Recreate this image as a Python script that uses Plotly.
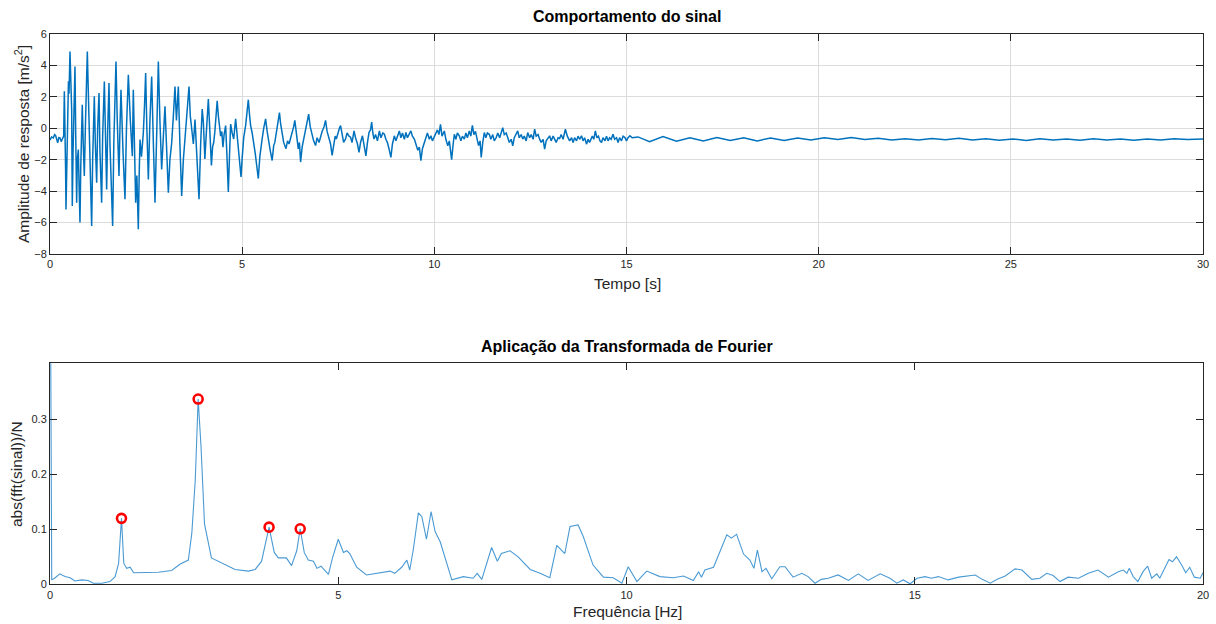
import plotly.graph_objects as go

# ---------------- data: time signal (t [s], amplitude [m/s^2]) ----------------
sinal_inicio = [
    (0.0, -0.75), (0.04, -0.55), (0.087, -0.61), (0.12, -0.4), (0.147, -0.47), (0.18, -0.75),
    (0.2, -0.93), (0.23, -0.6), (0.26, -0.61), (0.29, -0.85), (0.32, -0.72), (0.356, -0.5),
    (0.373, 2.35), (0.39, 0.5), (0.405, -2.5), (0.416, -5.16), (0.43, -3.0), (0.445, -1.0),
    (0.46, -0.08), (0.48, 3.0), (0.495, 2.2), (0.52, 4.88), (0.54, 3.2), (0.564, 1.18),
    (0.572, -2.0), (0.58, -4.95), (0.6, -1.5), (0.62, 1.0), (0.65, 3.93), (0.67, -0.5),
    (0.694, -4.74), (0.71, -2.0), (0.737, -1.35), (0.755, -3.5), (0.78, -6.0), (0.8, -2.5),
    (0.82, 0.3), (0.84, 1.5), (0.865, -1.0), (0.893, -3.04), (0.92, 0.0), (0.945, 2.5),
    (0.971, 4.88), (0.99, 3.0), (1.02, -0.08), (1.05, -3.0), (1.084, -6.22), (1.11, -2.0),
    (1.13, 0.5), (1.153, 2.03), (1.18, -1.0), (1.214, -3.47), (1.24, 0.0), (1.275, 2.24),
    (1.3, -1.5), (1.344, -4.74), (1.37, -0.5), (1.414, 2.98), (1.44, 0.0), (1.474, -3.89),
    (1.5, -0.2), (1.535, 2.88), (1.56, -1.0), (1.6, -3.5), (1.63, -6.22), (1.66, -1.0),
    (1.69, 2.0), (1.717, 4.25), (1.75, 0.5), (1.795, -3.04), (1.82, 0.0), (1.847, 2.45),
    (1.9, -1.5), (1.951, -4.52), (1.99, 0.0), (2.038, 3.4), (2.09, 0.5), (2.142, -1.78),
    (2.168, 2.45), (2.2, -1.0), (2.229, -4.74), (2.26, -3.0), (2.298, -6.43), (2.32, -3.0),
    (2.342, -0.72), (2.38, -1.8), (2.428, -0.3), (2.46, 1.5), (2.489, 3.51), (2.52, 0.0),
    (2.559, -3.26), (2.6, 0.5), (2.645, 3.3), (2.69, -1.0), (2.732, -4.74), (2.78, 0.0),
    (2.819, 4.25), (2.86, 0.5), (2.905, -2.62), (2.95, -0.5), (2.992, 1.4), (3.03, -1.0),
    (3.079, -4.1), (3.12, -2.0), (3.166, -0.93), (3.21, 0.8), (3.252, 2.66), (3.29, 0.5),
    (3.339, 2.66), (3.38, -1.0), (3.426, -4.31), (3.47, -2.0), (3.513, -0.51), (3.56, 0.8),
    (3.617, 2.66), (3.65, 0.8), (3.686, -0.08), (3.73, -1.0), (3.773, 0.55), (3.82, -1.5),
    (3.877, -4.52), (3.92, -1.0),
]
sinal_meio = [
    (3.96, 1.23), (3.99, 0.4), (4.03, -1.95), (4.06, -0.6), (4.09, 0.9), (4.12, 1.86),
    (4.15, 0.3), (4.2, -2.37), (4.23, -1.2), (4.26, -0.89), (4.29, -0.2), (4.32, 0.6),
    (4.35, 1.75), (4.38, 0.8), (4.41, 0.17), (4.44, -0.5), (4.47, -0.2), (4.5, -1.2),
    (4.53, -0.4), (4.57, 0.17), (4.6, -1.5), (4.64, -4.06), (4.67, -1.8), (4.7, 0.27),
    (4.74, -0.3), (4.78, -0.68), (4.83, 0.6), (4.86, -0.2), (4.9, -1.31), (4.93, -2.0),
    (4.97, -3.1), (5.0, -1.9), (5.04, -0.6), (5.09, 0.17), (5.12, 1.0), (5.16, 1.82),
    (5.19, 0.9), (5.22, 0.17), (5.26, -0.3), (5.3, -0.9), (5.34, -1.6), (5.38, -2.4),
    (5.42, -3.2), (5.46, -1.8), (5.49, -1.0), (5.52, -0.68), (5.56, 0.0), (5.61, 0.6),
    (5.65, -0.2), (5.69, -0.89), (5.73, -1.4), (5.78, -2.05), (5.82, -1.1), (5.85, -0.9),
    (5.88, -0.47), (5.92, 0.2), (5.97, 1.0), (6.0, 0.3), (6.04, -0.47), (6.08, -0.9),
    (6.14, -1.3), (6.18, -0.8), (6.22, -1.0), (6.26, -0.68), (6.3, -0.2), (6.34, 0.1),
    (6.37, 0.5), (6.41, -0.4), (6.46, -1.31), (6.49, -0.9), (6.52, -2.15), (6.56, -1.2),
    (6.6, -0.68), (6.64, -0.2), (6.68, 0.2), (6.73, 0.9), (6.77, 0.1), (6.82, -0.47),
    (6.86, -0.8), (6.91, -1.1), (6.95, -0.6), (7.0, -0.9), (7.04, -0.47), (7.08, -0.2),
    (7.13, 0.1), (7.17, 0.5), (7.21, -0.2), (7.26, -0.68), (7.3, -1.0), (7.34, -1.73),
    (7.38, -1.0), (7.42, -0.5), (7.45, -0.68), (7.5, -0.2), (7.53, 0.0), (7.56, 0.17),
    (7.6, -0.4), (7.64, -0.9), (7.69, -0.68), (7.73, -0.3), (7.78, -0.5), (7.82, -0.57),
    (7.86, -0.9),
]
sinal_tarde = [
    (7.91, -0.17), (7.95, -0.6), (8.0, -1.0), (8.04, -1.54), (8.08, -0.9), (8.13, -0.48),
    (8.17, -1.0), (8.22, -1.75), (8.26, -0.9), (8.3, -0.27), (8.34, -0.1), (8.37, 0.4),
    (8.4, -0.3), (8.43, -0.69), (8.47, -0.4), (8.52, -0.8), (8.57, -0.17), (8.61, -0.6),
    (8.66, -0.3), (8.7, -0.38), (8.74, -0.7), (8.78, -0.91), (8.82, -1.3), (8.87, -1.85),
    (8.91, -1.0), (8.96, -0.48), (9.0, -0.8), (9.04, -0.5), (9.09, -0.17), (9.13, -0.6),
    (9.17, -0.3), (9.22, -0.7), (9.26, -0.27), (9.3, -0.6), (9.35, -0.4), (9.39, -0.17),
    (9.43, -0.5), (9.48, -0.69), (9.52, -1.0), (9.57, -1.4), (9.61, -1.2), (9.65, -2.06),
    (9.69, -1.3), (9.74, -0.9), (9.78, -0.69), (9.82, -0.3), (9.87, -0.7), (9.91, -0.48),
    (9.95, -0.8), (10.0, -0.5), (10.04, -0.38), (10.08, -0.1), (10.12, -0.4), (10.16, 0.25),
    (10.2, -0.5), (10.26, -0.17), (10.3, -0.7), (10.35, -1.12), (10.39, -0.8), (10.42, -1.4),
    (10.45, -2.0), (10.49, -1.0), (10.52, -0.38), (10.56, -0.7), (10.6, -0.3), (10.65, -0.48),
    (10.69, -0.8), (10.73, -0.5), (10.78, -0.69), (10.82, -0.3), (10.86, -0.6), (10.91, -0.17),
    (10.95, -0.5), (10.99, 0.19), (11.03, -0.4), (11.07, -0.2), (11.11, -0.69), (11.15, -1.1),
    (11.19, -0.8), (11.22, -1.85), (11.26, -0.9), (11.3, -0.27), (11.34, -0.6), (11.38, -0.3),
    (11.43, -0.38), (11.47, -0.7), (11.52, -0.4), (11.56, -0.8), (11.61, -0.59), (11.65, -0.3),
    (11.7, -0.6), (11.74, -0.2), (11.78, 0.04), (11.82, -0.4), (11.87, -0.3), (11.91, -0.59),
    (11.95, -0.9), (12.0, -0.7), (12.04, -1.12), (12.08, -0.6), (12.12, -0.4), (12.17, -0.17),
    (12.21, -0.6), (12.26, -0.4), (12.3, -0.69), (12.34, -0.5), (12.39, -0.8), (12.43, -0.27),
    (12.48, -0.6), (12.52, -0.4), (12.57, -0.7), (12.61, -0.06), (12.65, -0.5), (12.7, -0.4),
    (12.74, -0.69), (12.78, -0.9), (12.83, -0.7), (12.87, -1.33), (12.91, -0.8), (12.96, -0.6),
    (13.0, -0.48), (13.04, -0.8), (13.09, -0.5), (13.13, -0.69), (13.17, -0.9), (13.22, -0.6),
    (13.26, -0.65), (13.3, -0.4), (13.35, -0.7), (13.41, -0.06), (13.46, -0.5), (13.52, -0.8),
    (13.57, -0.6), (13.61, -0.9), (13.65, -0.6), (13.7, -0.8), (13.74, -0.5), (13.78, -0.7),
    (13.83, -0.48), (13.87, -0.8), (13.91, -0.6), (13.96, -1.01), (14.0, -0.7), (14.04, -0.9),
    (14.07, -0.69), (14.11, -0.5), (14.15, -0.7), (14.19, -0.17), (14.23, -0.6), (14.27, -0.5),
    (14.31, -0.8), (14.35, -0.91), (14.39, -0.6), (14.44, -0.8), (14.48, -0.5), (14.52, -0.8),
    (14.56, -0.6), (14.6, -0.7), (14.65, -0.38), (14.69, -0.7), (14.74, -0.6), (14.78, -0.91),
    (14.82, -0.6), (14.87, -0.8), (14.91, -0.5), (14.96, -0.59), (15.0, -0.8), (15.04, -0.6),
    (15.09, -0.48), (15.15, -0.6),
]
sinal_fim = [
    (15.3, -0.55), (15.6, -0.85), (15.95, -0.52), (16.3, -0.82), (16.65, -0.6), (17.0, -0.8),
    (17.35, -0.58), (17.7, -0.78), (18.05, -0.6), (18.4, -0.8), (18.75, -0.62), (19.1, -0.78),
    (19.45, -0.62), (19.8, -0.75), (20.15, -0.6), (20.5, -0.72), (20.85, -0.58), (21.2, -0.72),
    (21.55, -0.63), (21.9, -0.74), (22.25, -0.66), (22.6, -0.74), (22.95, -0.65), (23.3, -0.73),
    (23.65, -0.64), (24.0, -0.74), (24.35, -0.67), (24.7, -0.76), (25.05, -0.68), (25.4, -0.77),
    (25.75, -0.66), (26.1, -0.74), (26.45, -0.68), (26.8, -0.76), (27.15, -0.67), (27.5, -0.74),
    (27.85, -0.68), (28.2, -0.76), (28.55, -0.68), (28.9, -0.74), (29.25, -0.66), (29.6, -0.72),
    (30.0, -0.68),
]

# ---------------- data: spectrum (f [Hz], abs(fft)/N) ----------------
espectro = [
    (0.0, 0.72), (0.03, 0.008), (0.09, 0.012), (0.17, 0.019), (0.26, 0.014), (0.35, 0.012),
    (0.43, 0.006), (0.55, 0.008), (0.66, 0.007), (0.75, 0.002), (0.90, 0.002), (1.04, 0.005),
    (1.13, 0.014), (1.19, 0.038), (1.24, 0.12), (1.28, 0.038), (1.33, 0.029), (1.39, 0.031),
    (1.45, 0.021), (1.59, 0.021), (1.88, 0.022), (2.11, 0.025), (2.26, 0.037), (2.40, 0.044),
    (2.46, 0.093), (2.52, 0.19), (2.57, 0.337), (2.62, 0.25), (2.68, 0.11), (2.80, 0.048),
    (2.98, 0.039), (3.21, 0.027), (3.44, 0.024), (3.56, 0.027), (3.67, 0.042), (3.80, 0.104),
    (3.89, 0.058), (3.96, 0.048), (4.10, 0.048), (4.19, 0.034), (4.28, 0.061), (4.34, 0.101),
    (4.41, 0.058), (4.48, 0.044), (4.57, 0.042), (4.63, 0.029), (4.70, 0.033), (4.83, 0.018),
    (4.90, 0.048), (5.00, 0.082), (5.09, 0.058), (5.15, 0.061), (5.20, 0.056), (5.32, 0.031),
    (5.49, 0.017), (5.64, 0.020), (5.90, 0.024), (5.98, 0.020), (6.10, 0.031), (6.19, 0.044),
    (6.24, 0.026), (6.30, 0.062), (6.39, 0.130), (6.45, 0.123), (6.53, 0.082), (6.61, 0.132),
    (6.68, 0.096), (6.77, 0.077), (6.97, 0.008), (7.17, 0.014), (7.34, 0.011), (7.41, 0.020),
    (7.49, 0.009), (7.66, 0.067), (7.76, 0.042), (7.83, 0.056), (7.98, 0.061), (8.12, 0.050),
    (8.33, 0.027), (8.50, 0.020), (8.67, 0.012), (8.79, 0.071), (8.93, 0.056), (9.02, 0.105),
    (9.16, 0.108), (9.25, 0.087), (9.42, 0.035), (9.60, 0.013), (9.77, 0.012), (9.92, 0.002),
    (10.03, 0.032), (10.18, 0.005), (10.35, 0.024), (10.58, 0.014), (10.81, 0.012), (10.99, 0.015),
    (11.16, 0.007), (11.25, 0.023), (11.30, 0.013), (11.36, 0.026), (11.51, 0.031), (11.74, 0.090),
    (11.82, 0.084), (11.91, 0.091), (12.03, 0.055), (12.14, 0.044), (12.21, 0.029), (12.27, 0.062),
    (12.35, 0.023), (12.42, 0.029), (12.52, 0.010), (12.66, 0.032), (12.75, 0.032), (12.89, 0.013),
    (13.04, 0.020), (13.15, 0.014), (13.27, 0.002), (13.38, 0.009), (13.50, 0.011), (13.67, 0.017),
    (13.85, 0.007), (14.02, 0.019), (14.19, 0.007), (14.40, 0.019), (14.57, 0.011), (14.69, 0.002),
    (14.80, 0.008), (14.92, 0.001), (15.04, 0.011), (15.18, 0.014), (15.29, 0.011), (15.41, 0.014),
    (15.58, 0.008), (15.76, 0.013), (15.90, 0.015), (16.05, 0.017), (16.17, 0.009), (16.31, 0.002),
    (16.43, 0.009), (16.57, 0.015), (16.74, 0.028), (16.86, 0.026), (17.03, 0.009), (17.17, 0.011),
    (17.29, 0.020), (17.40, 0.016), (17.52, 0.005), (17.66, 0.013), (17.84, 0.011), (18.01, 0.020),
    (18.18, 0.026), (18.36, 0.013), (18.53, 0.023), (18.62, 0.026), (18.68, 0.020), (18.72, 0.029),
    (18.79, 0.014), (18.87, 0.005), (18.96, 0.023), (19.04, 0.033), (19.11, 0.011), (19.20, 0.019),
    (19.25, 0.011), (19.34, 0.029), (19.41, 0.045), (19.47, 0.041), (19.54, 0.050), (19.63, 0.035),
    (19.70, 0.021), (19.77, 0.031), (19.85, 0.013), (19.95, 0.011), (20.0, 0.021),
]

picos_f = [1.24, 2.57, 3.80, 4.34]
picos_v = [0.120, 0.337, 0.104, 0.101]

x_ticks_top = [0, 5, 10, 15, 20, 25, 30]
y_ticks_top = [-8, -6, -4, -2, 0, 2, 4, 6]
x_ticks_bot = [0, 5, 10, 15, 20]
y_ticks_bot = [0, 0.1, 0.2, 0.3]
y_ticks_bot_text = ["0", "0.1", "0.2", "0.3"]

sinal = sinal_inicio + sinal_meio + sinal_tarde + sinal_fim
tempo = [p[0] for p in sinal]
amplitude = [p[1] for p in sinal]
freq = [p[0] for p in espectro]
mag = [p[1] for p in espectro]

# ---------------- figure ----------------
W, H = 1216, 624
FONT = "Liberation Sans, Arial, Helvetica, sans-serif"
AX = "#262626"

fig = go.Figure()
fig.add_trace(go.Scatter(x=tempo, y=amplitude, mode="lines",
                         line=dict(color="#0072BD", width=1.5),
                         xaxis="x", yaxis="y", showlegend=False, hoverinfo="skip"))
fig.add_trace(go.Scatter(x=freq, y=mag, mode="lines",
                         line=dict(color="#4a9ad4", width=1.1),
                         xaxis="x2", yaxis="y2", showlegend=False, hoverinfo="skip"))
fig.add_trace(go.Scatter(x=picos_f, y=picos_v, mode="markers",
                         marker=dict(symbol="circle-open", size=9, color="#ff0000",
                                     line=dict(width=2.6, color="#ff0000")),
                         xaxis="x2", yaxis="y2", showlegend=False, hoverinfo="skip"))


def px_x(p):
    return p / W


def px_y(p):
    return 1 - p / H


common = dict(ticks="inside", ticklen=7, tickwidth=1, tickcolor=AX,
              showline=True, linecolor=AX, linewidth=1, mirror="ticks",
              zeroline=False, automargin=False,
              tickfont=dict(family=FONT, size=11, color=AX))

fig.update_layout(
    width=W, height=H, margin=dict(l=0, r=0, t=0, b=0, autoexpand=False),
    paper_bgcolor="white", plot_bgcolor="white",
    xaxis=dict(domain=[px_x(50), px_x(1203)], range=[0, 30], tickvals=x_ticks_top,
               showgrid=True, gridcolor="#dcdcdc", gridwidth=1, anchor="y", **common),
    yaxis=dict(domain=[px_y(254), px_y(34)], range=[-8, 6], tickvals=y_ticks_top,
               showgrid=True, gridcolor="#dcdcdc", gridwidth=1, anchor="x", **common),
    xaxis2=dict(domain=[px_x(50), px_x(1203)], range=[0, 20], tickvals=x_ticks_bot,
                showgrid=False, anchor="y2", **common),
    yaxis2=dict(domain=[px_y(584.3), px_y(363.3)], range=[0, 0.402], tickvals=y_ticks_bot,
                ticktext=y_ticks_bot_text, showgrid=False, anchor="x2", **common),
)


def ann(text, x, y, size, bold=False, angle=0):
    fig.add_annotation(text=("<b>%s</b>" % text) if bold else text,
                       x=px_x(x), y=px_y(y), xref="paper", yref="paper",
                       xanchor="center", yanchor="middle", showarrow=False,
                       textangle=angle,
                       font=dict(family=FONT, size=size, color="#000000" if bold else AX))


ann("Comportamento do sinal", 627, 16, 16, bold=True)
ann("Aplicação da Transformada de Fourier", 627, 346, 16, bold=True)
ann("Tempo [s]", 627, 284, 15.5)
ann("Frequência [Hz]", 627, 611, 15.5)
ann("Amplitude de resposta [m/s<sup>2</sup>]", 22, 144, 15.5, angle=-90)
ann("abs(fft(sinal))/N", 16, 474, 15.5, angle=-90)

fig.write_html("out.html", config={"displayModeBar": False})
